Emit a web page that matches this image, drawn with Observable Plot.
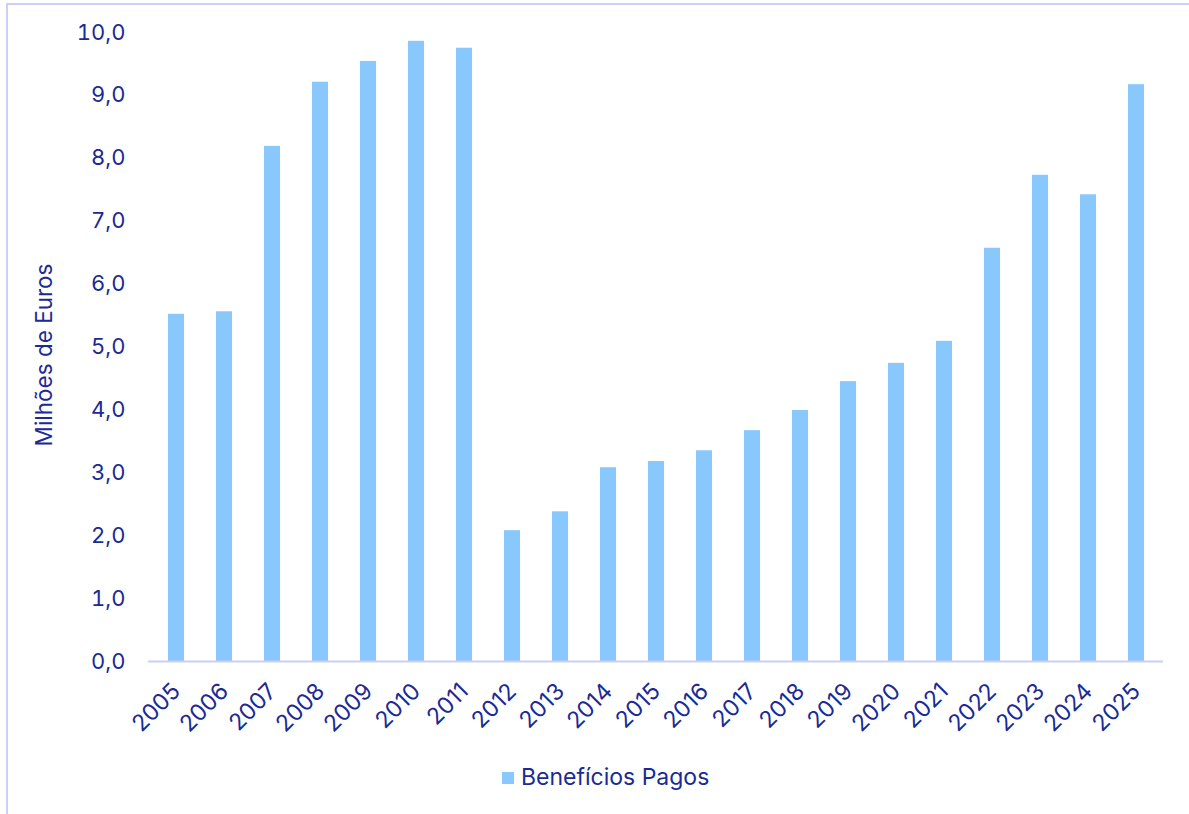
<!DOCTYPE html>
<html>
<head>
<meta charset="utf-8">
<script src="https://cdn.jsdelivr.net/npm/d3@7"></script>
<script src="https://cdn.jsdelivr.net/npm/@observablehq/plot@0.6"></script>
<style>
  html, body { margin: 0; padding: 0; background: #fff; }
  body { width: 1189px; height: 814px; position: relative; overflow: hidden; font-family: Inter, "Noto Sans", sans-serif; }
  #frame { position: absolute; left: 6px; top: 3px; right: -10px; bottom: -10px; border-left: 2px solid #cbcff8; border-top: 2px solid #cbcff8; }
  #chart { position: absolute; left: 0; top: 0; }
  #legend { position: absolute; top: 763px; left: 0; width: 1189px; color: #1b2a95; font-size: 23px; }
  #legend .sw { display: inline-block; width: 12px; height: 12px; background: #88c8fc; margin-right: 7px; vertical-align: 1px; }
  #legend .in { position: absolute; left: 502px; }
</style>
</head>
<body>
<div id="frame"></div>
<div id="chart"></div>
<div id="legend"><span class="in"><span class="sw"></span><span id="legtext"></span></span></div>
<script>
const years = ["2005","2006","2007","2008","2009","2010","2011","2012","2013","2014","2015","2016","2017","2018","2019","2020","2021","2022","2023","2024","2025"];
const beneficios = [5.52, 5.56, 8.19, 9.21, 9.54, 9.86, 9.75, 2.08, 2.38, 3.08, 3.18, 3.35, 3.67, 3.99, 4.45, 4.74, 5.09, 6.57, 7.73, 7.42, 9.17];
const yTicks = [0,1,2,3,4,5,6,7,8,9,10];
const seriesName = "Benefícios Pagos";
const yLabel = "Milhões de Euros";

document.getElementById("legtext").textContent = seriesName;
const data = years.map((y, i) => ({year: y, value: beneficios[i]}));
const fmt = d => d.toFixed(1).replace(".", ",");

const plot = Plot.plot({
  width: 1189,
  height: 750,
  marginTop: 32,
  marginBottom: 89,
  marginLeft: 148,
  marginRight: 26,
  style: {fontFamily: "Inter, 'Noto Sans', sans-serif", color: "#1b2a95", background: "transparent"},
  x: {domain: years, paddingInner: 0.67, paddingOuter: 0.335, align: 0.5},
  y: {domain: [0, 10]},
  marks: [
    Plot.barY(data, {x: "year", y: "value", fill: "#88c8fc"}),
    Plot.ruleY([0], {stroke: "#c9cdf8", strokeWidth: 2}),
    Plot.axisY(yTicks, {tickSize: 0, tickPadding: 23, tickFormat: fmt, fontSize: 22, fill: "#1b2a95",
      label: yLabel, labelAnchor: "center", labelArrow: "none", labelOffset: 112}),
    Plot.axisX({tickSize: 0, tickPadding: 26, tickRotate: -45, fontSize: 23, fill: "#1b2a95", label: null})
  ]
});
document.getElementById("chart").appendChild(plot);
plot.querySelectorAll("g[aria-label='y-axis label'] text").forEach(t => {
  t.setAttribute("font-size", 22.5);
  t.setAttribute("dx", -8);
});
</script>
</body>
</html>
